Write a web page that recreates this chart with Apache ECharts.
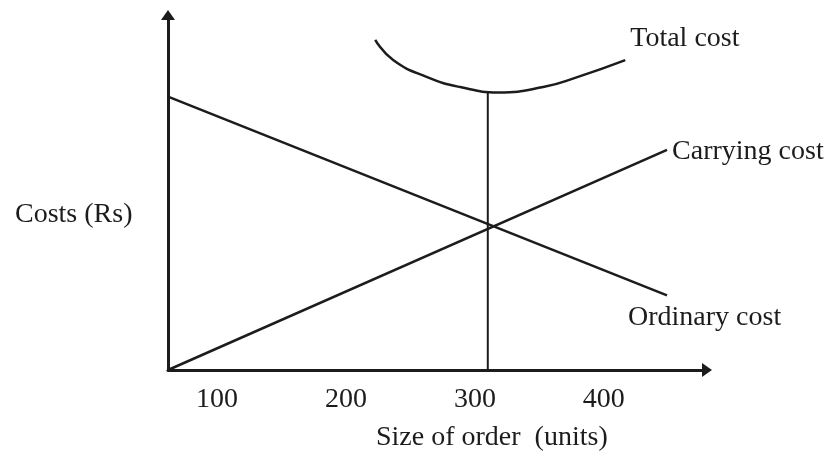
<!DOCTYPE html>
<html>
<head>
<meta charset="utf-8">
<title>Size of order vs costs</title>
<script src="https://cdn.jsdelivr.net/npm/echarts@6/dist/echarts.min.js"></script>
<style>
  html, body { margin: 0; padding: 0; background: #fff; }
  #chart { width: 830px; height: 451px; }
</style>
</head>
<body>
<div id="chart"></div>
<script>
// values (x = size of order in units, y = cost, arbitrary units)
const xTicks = [100, 200, 300, 400];
const lineX = [62, 449];
const ordinaryCost = [77, 21];
const carryingCost = [0, 62];
const totalX = [222.7, 236.6, 263, 288.6, 318.1, 353, 379.4, 416.6];
const totalCost = [93.0, 87.3, 82.5, 79.7, 78.2, 79.7, 82.5, 87.3];
const eoqX = [310, 310];
const eoqY = [0, 78.4];

const ink = '#1c1c1c';
const serif = "'Liberation Serif', 'DejaVu Serif', serif";

function pairs(xs, ys) {
  return xs.map((x, i) => [x, ys[i]]);
}

const chart = echarts.init(document.getElementById('chart'));

chart.setOption({
  backgroundColor: '#fff',
  animation: false,
  grid: { left: 168, right: 123, top: 15, bottom: 81 },
  xAxis: {
    type: 'value',
    min: 62,
    max: 480,
    splitLine: { show: false },
    axisLine: {
      lineStyle: { color: ink, width: 3 },
      symbol: ['none', 'triangle'],
      symbolSize: [14, 10]
    },
    axisTick: { show: false },
    axisLabel: {
      customValues: xTicks,
      color: ink,
      fontFamily: serif,
      fontSize: 28,
      margin: 16
    }
  },
  yAxis: {
    type: 'value',
    min: 0,
    max: 100,
    splitLine: { show: false },
    axisLine: {
      lineStyle: { color: ink, width: 3 },
      symbol: ['none', 'triangle'],
      symbolSize: [14, 10]
    },
    axisTick: { show: false },
    axisLabel: { show: false }
  },
  graphic: [
    {
      type: 'text',
      left: 15,
      top: 201,
      style: { text: 'Costs (Rs)', fill: ink, font: '28px ' + serif }
    },
    {
      type: 'text',
      left: 376,
      top: 424,
      style: { text: 'Size of order  (units)', fill: ink, font: '28px ' + serif }
    }
  ],
  series: [
    {
      name: 'Ordinary cost',
      type: 'line',
      data: pairs(lineX, ordinaryCost),
      symbol: 'none',
      lineStyle: { color: ink, width: 2.5 },
      endLabel: {
        show: true,
        formatter: 'Ordinary cost',
        color: ink,
        fontFamily: serif,
        fontSize: 28,
        offset: [-47, 22]
      }
    },
    {
      name: 'Carrying cost',
      type: 'line',
      data: pairs(lineX, carryingCost),
      symbol: 'none',
      lineStyle: { color: ink, width: 2.5 },
      endLabel: {
        show: true,
        formatter: 'Carrying cost',
        color: ink,
        fontFamily: serif,
        fontSize: 28,
        offset: [-3, 2]
      }
    },
    {
      name: 'Total cost',
      type: 'line',
      smooth: true,
      data: pairs(totalX, totalCost),
      symbol: 'none',
      lineStyle: { color: ink, width: 2.5 },
      endLabel: {
        show: true,
        formatter: 'Total cost',
        color: ink,
        fontFamily: serif,
        fontSize: 28,
        offset: [-3, -21]
      }
    },
    {
      name: 'EOQ',
      type: 'line',
      data: pairs(eoqX, eoqY),
      symbol: 'none',
      lineStyle: { color: ink, width: 2 }
    }
  ]
});
</script>
</body>
</html>
